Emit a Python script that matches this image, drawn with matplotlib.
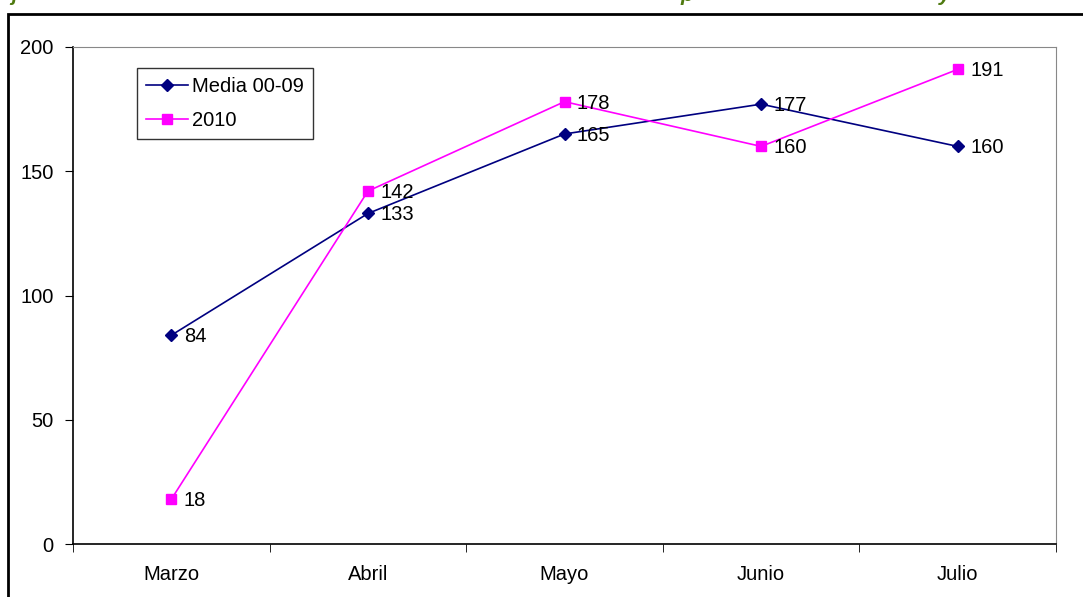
import matplotlib
matplotlib.use("Agg")
import matplotlib.pyplot as plt
from matplotlib.patches import Rectangle

plt.rcParams['font.family'] = ['Liberation Sans', 'DejaVu Sans']

meses = ['Marzo', 'Abril', 'Mayo', 'Junio', 'Julio']
media_00_09 = [84, 133, 165, 177, 160]
serie_2010 = [18, 142, 178, 160, 191]

fig = plt.figure(figsize=(10.83, 5.97), dpi=100)
ax = fig.add_axes([73 / 1083, 1 - 544 / 597, (1056 - 73) / 1083, (544 - 47) / 597])

x = list(range(len(meses)))
ax.plot(x, media_00_09, color='#000080', lw=1.2, marker='D', ms=6,
        label='Media 00-09')
ax.plot(x, serie_2010, color='#FF00FF', lw=1.2, marker='s', ms=7,
        label='2010')

for xi, v in zip(x, media_00_09):
    ax.annotate(str(v), (xi, v), xytext=(9, -1), textcoords='offset points',
                va='center', ha='left', fontsize=14.5)
for xi, v in zip(x, serie_2010):
    ax.annotate(str(v), (xi, v), xytext=(9, -1), textcoords='offset points',
                va='center', ha='left', fontsize=14.5)

ax.set_xlim(-0.5, len(meses) - 0.5)
ax.set_ylim(0, 200)
ax.set_yticks([0, 50, 100, 150, 200])
ax.set_xticks(x)
ax.set_xticklabels(meses)
ax.set_xticks([i - 0.5 for i in range(len(meses) + 1)], minor=True)
ax.tick_params(axis='x', which='major', length=0, pad=15, labelsize=14.5)
ax.tick_params(axis='x', which='minor', length=6, direction='out')
ax.tick_params(axis='y', length=6, direction='out', labelsize=14.5, pad=8)

for s in ['top', 'right']:
    ax.spines[s].set_color('#888888')
for s in ['left', 'bottom']:
    ax.spines[s].set_color('black')
    ax.spines[s].set_linewidth(1.2)

leg = ax.legend(loc='upper left', bbox_to_anchor=(64 / 983, 1 - 21 / 497),
                fontsize=14.5, frameon=True, fancybox=False, edgecolor='black',
                handlelength=2.1, borderpad=0.45, labelspacing=0.75,
                handletextpad=0.2, borderaxespad=0)
leg.get_frame().set_linewidth(1.0)

# marco exterior del gráfico
fig.patches.append(Rectangle((8 / 1083, -0.01), 1.1, 1 - 14 / 597 + 0.01,
                             transform=fig.transFigure, fill=False,
                             edgecolor='black', lw=2))

# título recortado en la parte superior
for px, ch in [(11, 'j'), (680, 'p'), (939, 'y')]:
    fig.text(px / 1083, 1 - 1 / 597, ch, color='#4F7A10', fontsize=15,
             fontweight='bold', fontstyle='italic', va='baseline')

fig.savefig('out.png', dpi=100)
